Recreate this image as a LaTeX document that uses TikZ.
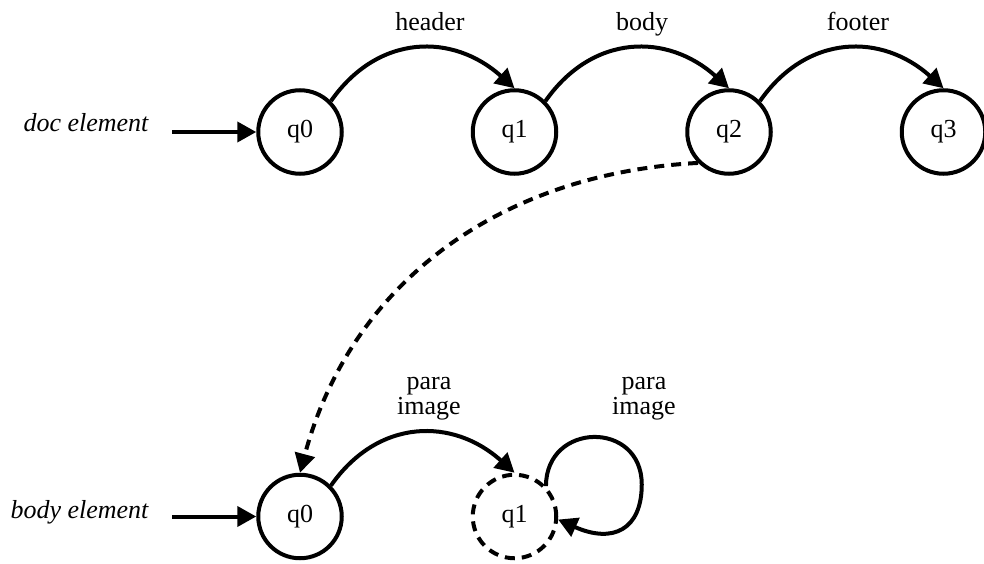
\documentclass[tikz,border=0pt]{standalone}
\usepackage{fontspec}
\setmainfont{Liberation Serif}
\usetikzlibrary{arrows.meta}

\begin{document}
\begin{tikzpicture}[x=1pt,y=1pt,
  txt/.style={font=\fontsize{26}{25}\selectfont},
  state/.style={txt, circle, draw, line width=4pt, minimum size=83.5pt, inner sep=0pt},
  tentative/.style={dash pattern=on 10pt off 7pt},
  edge/.style={line width=4pt, -{Triangle[length=19pt,width=20pt]}},
  lbl/.style={txt, align=center, inner sep=0pt, anchor=base},
  entry/.style={font=\itshape\fontsize{26}{25}\selectfont, inner sep=0pt, anchor=base}]
\useasboundingbox (0,0) rectangle (984,563);

% document automaton
\node[state] (d0) at (300,431) {q0};
\node[state] (d1) at (514.5,431) {q1};
\node[state] (d2) at (729,431) {q2};
\node[state] (d3) at (943.5,431) {q3};
\node[entry] (dname) at (86,431) {doc element};
\coordinate (din) at (172,431);

% body automaton
\node[state] (b0) at (300,46.5) {q0};
\node[state, tentative] (b1) at (514.5,46.5) {q1};
\node[entry] (bname) at (79.5,45) {body element};
\coordinate (bin) at (172,46.5);

% transition labels
\node[lbl] (lh) at (430,532) {header};
\node[lbl] (lb) at (642,532) {body};
\node[lbl] (lf) at (858,532) {footer};
\node[lbl] (lp) at (429,149) {para\\image};
\node[lbl] (ll) at (644,149) {para\\image};

% entry arrows
\draw[edge] (din) -- (d0);
\draw[edge] (bin) -- (b0);

% transitions
\draw[edge] (d0.45) to[out=55,in=138,looseness=1.15] (d1.north);
\draw[edge] (d1.45) to[out=55,in=138,looseness=1.15] (d2.north);
\draw[edge] (d2.45) to[out=55,in=138,looseness=1.15] (d3.north);
\draw[edge] (b0.45) to[out=55,in=138,looseness=1.15] (b1.north);

% nested automaton reference
\draw[edge, tentative] (d2.225) to[out=183,in=75] (b0.north);

% self loop on body q1
\coordinate (loopR) at (641.75,78.5);
\draw[edge] (b1.44) .. controls +(0,64.5) and +(0,64.5) .. (loopR)
  .. controls +(0,-45) and +(-24:60) .. (b1.-4);
\end{tikzpicture}
\end{document}
